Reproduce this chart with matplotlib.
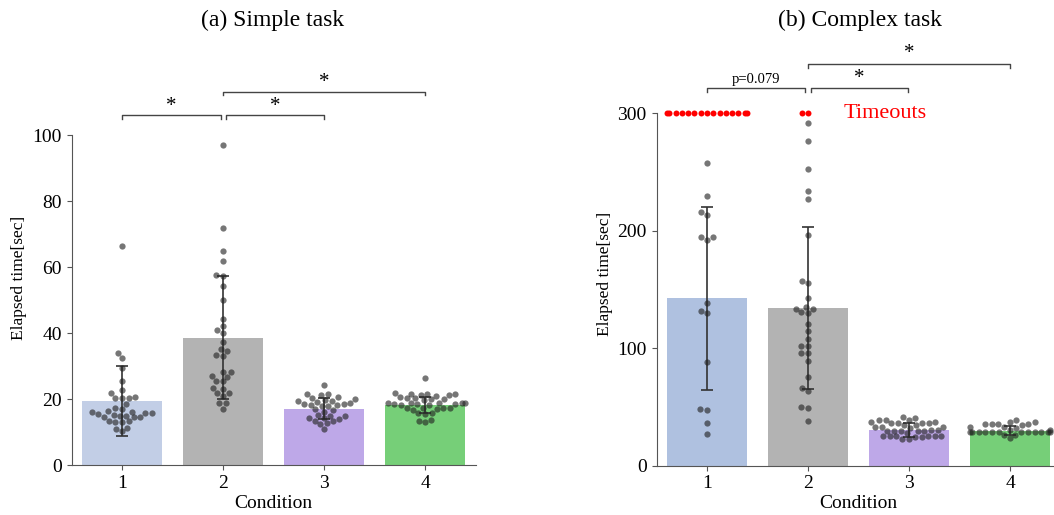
import numpy as np
import pandas as pd
import matplotlib
matplotlib.use("Agg")
import matplotlib.pyplot as plt
import seaborn as sns

plt.rcParams['font.family'] = ['Liberation Serif', 'DejaVu Serif']

conditions = ['1', '2', '3', '4']

# (a) simple task - individual times [sec]
simple_c1 = [66.4, 33.8, 32.3, 29.3, 25.6, 22.7, 21.7, 20.4, 20.4, 20.6, 20.2, 18.6, 17.2, 17.0,
             16.4, 15.8, 15.6, 15.8, 16.0, 16.2, 15.2, 15.0, 14.6, 14.4, 14.6, 14.8, 13.4, 13.2,
             13.0, 13.0, 11.3, 11.0, 10.2]
simple_c2 = [97.0, 71.7, 64.8, 61.7, 57.4, 57.6, 54.3, 50.0, 44.3, 42.1, 40.9, 39.9, 37.2, 35.3,
             34.5, 33.1, 33.3, 28.1, 28.3, 26.8, 27.0, 25.6, 25.4, 23.2, 23.0, 21.7, 21.9, 21.0,
             18.7, 18.9, 17.1]
simple_c3 = [24.1, 21.4, 21.2, 21.6, 20.4, 20.6, 19.7, 19.9, 19.5, 19.1, 19.3, 18.9, 18.2, 18.0,
             18.4, 18.2, 18.0, 18.4, 16.7, 16.9, 16.2, 15.0, 15.2, 14.8, 14.1, 14.3, 13.9, 13.4,
             13.2, 12.6, 12.4, 10.8]
simple_c4 = [26.3, 21.6, 21.0, 21.4, 21.8, 21.2, 21.2, 21.6, 20.0, 20.2, 20.6, 20.2, 20.0, 19.6,
             18.6, 18.8, 18.2, 18.2, 18.8, 18.8, 18.4, 18.4, 18.8, 18.8, 17.4, 16.8, 17.0, 17.4,
             17.4, 17.4, 15.8, 15.6, 15.8, 13.4, 13.0, 13.6]
simple_mean = [19.4, 38.6, 17.0, 18.2]
simple_sd = [10.7, 18.7, 3.2, 2.5]

# (b) complex task - individual times [sec], timeouts counted at 300
complex_c1 = [257.7, 229.6, 216.0, 213.7, 194.4, 194.6, 192.1, 138.2, 131.7, 129.7, 88.5, 48.0,
              47.8, 36.1, 26.7]
complex_c2 = [292.0, 276.7, 252.8, 234.1, 227.3, 196.4, 157.5, 155.3, 142.5, 135.4, 133.4, 133.6,
              130.3, 130.5, 120.6, 114.7, 107.6, 101.6, 101.8, 95.7, 95.9, 89.1, 75.3, 66.4, 63.6,
              49.4, 49.6, 38.3]
complex_c3 = [40.9, 41.1, 38.9, 39.1, 38.7, 36.6, 36.8, 36.4, 36.6, 36.8, 36.4, 34.6, 34.8, 32.7,
              32.9, 32.5, 32.7, 29.8, 30.0, 29.6, 29.8, 30.0, 29.6, 29.8, 27.8, 25.0, 25.2, 24.8,
              25.0, 25.2, 24.8, 25.0, 25.2, 22.7, 22.9]
complex_c4 = [38.9, 36.9, 37.1, 35.2, 35.4, 35.0, 35.2, 35.4, 32.7, 32.9, 32.5, 30.4, 30.6, 28.4,
              28.4, 28.4, 28.4, 28.4, 28.4, 28.4, 28.4, 28.4, 28.4, 28.4, 28.4, 26.1, 26.3, 23.3]
timeouts = [15, 2, 0, 0]
complex_mean = [142.5, 134.0, 30.4, 29.8]
complex_sd = [78.0, 69.0, 5.7, 4.0]

bar_colors_a = ['#c2cee6', '#b3b3b3', '#bea8e8', '#76cf78']
bar_colors_b = ['#afc1e0', '#b3b3b3', '#bea8e8', '#76cf78']


def long_df(groups):
    rows = []
    for c, vals in zip(conditions, groups):
        for v in vals:
            rows.append((c, v))
    return pd.DataFrame(rows, columns=['Condition', 'time'])


def bracket(ax, x1, x2, y, h, label, ty, size=15, color='#444444'):
    ax.plot([x1, x1, x2, x2], [y - h, y, y, y - h], color=color, lw=1, clip_on=False)
    ax.text((x1 + x2) / 2, ty, label, ha='center', va='center', fontsize=size, clip_on=False)


def draw_panel(ax, groups, means, sds, colors, ylim, ticks):
    ax.bar(range(4), means, width=0.8, color=colors, zorder=1)
    ax.errorbar(range(4), means, yerr=sds, fmt='none', ecolor='#333333', elinewidth=1.2,
                capsize=4, capthick=1.2, zorder=3)
    df = long_df(groups)
    sns.swarmplot(data=df, x='Condition', y='time', order=conditions, color='#222222',
                  alpha=0.62, size=4.5, ax=ax, zorder=4)
    ax.set_xlim(-0.5, 3.5)
    ax.set_ylim(*ylim)
    ax.set_yticks(ticks)
    ax.set_xticks(range(4))
    ax.set_xticklabels(conditions)
    for side in ['top', 'right']:
        ax.spines[side].set_visible(False)
    for side in ['left', 'bottom']:
        ax.spines[side].set_color('#555555')
    ax.tick_params(labelsize=14, color='#555555', length=3.5)
    ax.set_xlabel('Condition', fontsize=14, labelpad=2)
    ax.set_ylabel('Elapsed time[sec]', fontsize=12.5)


fig = plt.figure(figsize=(10.54, 5.15), dpi=100)
ax1 = fig.add_axes([71.5 / 1054, 1 - 465 / 515, 404 / 1054, 330 / 515])
ax2 = fig.add_axes([656.5 / 1054, 1 - 465.7 / 515, 404 / 1054, 352.4 / 515])

draw_panel(ax1, [simple_c1, simple_c2, simple_c3, simple_c4], simple_mean, simple_sd,
           bar_colors_a, (0, 100), [0, 20, 40, 60, 80, 100])
draw_panel(ax2, [complex_c1, complex_c2, complex_c3, complex_c4], complex_mean, complex_sd,
           bar_colors_b, (0, 300), [0, 100, 200, 300])

# timeouts in red at 300 s
to_df = pd.DataFrame([(c, 300.0) for c, n in zip(conditions, timeouts) for _ in range(n)],
                     columns=['Condition', 'time'])
sns.swarmplot(data=to_df, x='Condition', y='time', order=conditions, color='red',
              size=4.3, ax=ax2, zorder=5)
ax2.set_xlim(-0.5, 3.5)
ax2.set_ylim(0, 300)
ax2.text(1.35, 300, 'Timeouts', color='red', fontsize=16, va='center', ha='left')

for ax in (ax1, ax2):
    for coll in ax.collections:
        coll.set_clip_on(False)

ax1.yaxis.set_label_coords(-0.11, 0.568)
ax2.yaxis.set_label_coords(-0.108, 0.544)

# significance brackets
bracket(ax1, 0.0, 0.98, 106, 1.0, '*', 108.5)
bracket(ax1, 1.03, 2.0, 106, 1.0, '*', 108.5)
bracket(ax1, 1.0, 3.0, 113, 1.0, '*', 116)
bracket(ax2, 0.0, 0.97, 321.3, 3.4, 'p=0.079', 328.5, size=10.5)
bracket(ax2, 1.03, 1.99, 321.3, 3.4, '*', 330)
bracket(ax2, 1.0, 3.0, 342, 3.4, '*', 350.5)

fig.text(273 / 1054, 1 - 20 / 515, '(a) Simple task', ha='center', va='center', fontsize=17)
fig.text(860 / 1054, 1 - 20 / 515, '(b) Complex task', ha='center', va='center', fontsize=17)

fig.savefig('out.png', dpi=100)
